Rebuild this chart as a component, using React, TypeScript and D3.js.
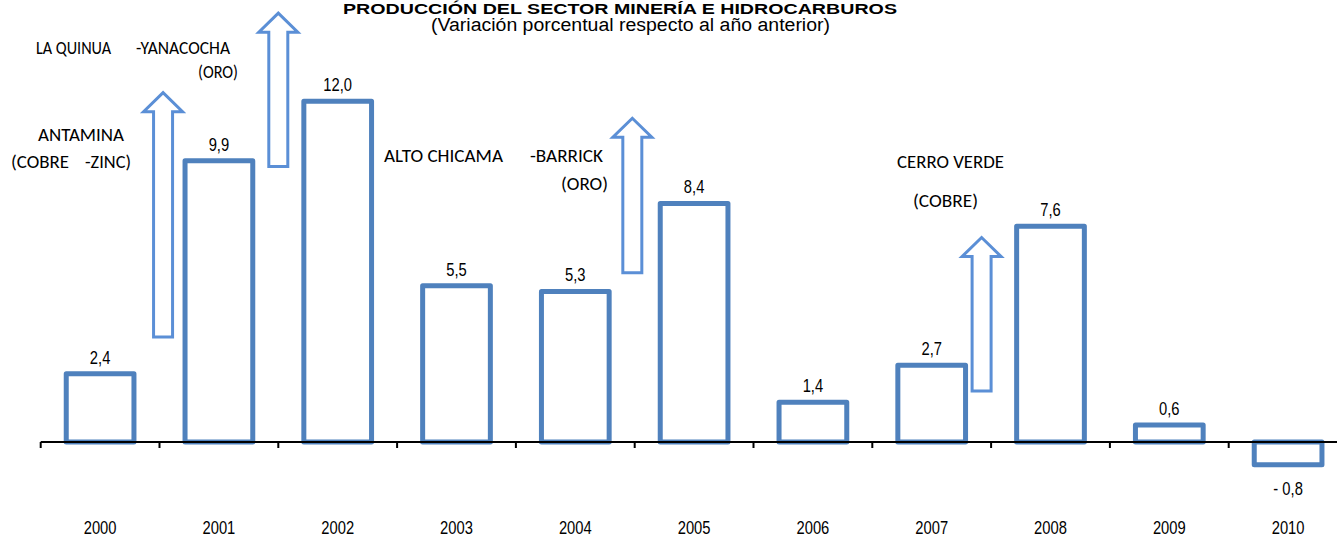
import React from "react";
import * as d3 from "d3";

const years = ["2000","2001","2002","2003","2004","2005","2006","2007","2008","2009","2010"];
const values = [2.4, 9.9, 12.0, 5.5, 5.3, 8.4, 1.4, 2.7, 7.6, 0.6, -0.8];
const valueLabels = ["2,4","9,9","12,0","5,5","5,3","8,4","1,4","2,7","7,6","0,6","- 0,8"];

// arrows: placed at boundary after category index, from base value to tip value
const arrowAfter = ["2000", "2001", "2004", "2007"];
const arrowBase = [3.7, 9.7, 5.96, 1.8];
const arrowTip = [12.3, 15.1, 11.4, 7.2];
const arrowShift = [0.03, 0.0, -0.02, -0.08];

const title = "PRODUCCIÓN DEL SECTOR MINERÍA E HIDROCARBUROS";
const subtitle = "(Variación porcentual  respecto al año anterior)";

const notes = [
  { t: "LA QUINUA", x: 36, y: 54, w: 75, s: 17.5 },
  { t: "-YANACOCHA", x: 136, y: 54, w: 94, s: 17.5 },
  { t: "(ORO)", x: 198, y: 78, w: 40, s: 17.5 },
  { t: "ANTAMINA", x: 38, y: 141, w: 86, s: 18.5 },
  { t: "(COBRE", x: 11, y: 168, w: 58, s: 18.5 },
  { t: "-ZINC)", x: 85, y: 168, w: 46, s: 18.5 },
  { t: "ALTO CHICAMA", x: 384, y: 162, w: 119, s: 18.5 },
  { t: "-BARRICK", x: 530, y: 162, w: 73, s: 18.5 },
  { t: "(ORO)", x: 561, y: 190, w: 47, s: 18.5 },
  { t: "CERRO VERDE", x: 897, y: 168, w: 107, s: 18.5 },
  { t: "(COBRE)", x: 913, y: 207, w: 65, s: 18.5 },
];

const W = 1337, H = 537;
const BAR = "#4F81BD";
const ARROW = "#5B8FD6";
const NARROW = "'Liberation Sans Narrow', 'Arial Narrow', 'Liberation Sans', Arial, sans-serif";
const NOTEFONT = "Carlito, Calibri, Lato, 'Open Sans', sans-serif";
const SQ = 0.82;

function Narrow({ x, y, size, children, bold }: { x: number; y: number; size: number; children: any; bold?: boolean }) {
  return (
    <g transform={`translate(${x},${y}) scale(${SQ},1)`}>
      <text x={0} y={0} textAnchor="middle" fontFamily={NARROW} fontSize={size} fontWeight={bold ? "bold" : "normal"} fill="#000">
        {children}
      </text>
    </g>
  );
}

export default function App() {
  const unit = 28.4;
  const zero = 442;
  const y = d3.scaleLinear().domain([-2, 15]).range([zero + 2 * unit, zero - 15 * unit]);
  const x = d3.scaleBand().domain(years).range([40.7, 40.7 + 11 * 118.8]).padding(0);
  const bw = x.bandwidth();
  const barW = bw * 0.57;
  const ticks = years.map((d) => x(d)!);

  return (
    <svg width={W} height={H} style={{ position: "absolute", left: 0, top: 0, display: "block" }}>
      <rect width={W} height={H} fill="#fff" />
      <text x={620} y={14} textAnchor="middle" fontFamily={NARROW} fontWeight="bold" fontSize={14}
        textLength={554} lengthAdjust="spacingAndGlyphs">{title}</text>
      <text x={630.5} y={31} textAnchor="middle" fontFamily={NARROW} fontSize={18}
        textLength={399} lengthAdjust="spacingAndGlyphs">{subtitle}</text>

      {values.map((v, i) => {
        const cx = x(years[i])! + bw / 2;
        const y0 = y(Math.max(0, v));
        const y1 = y(Math.min(0, v));
        return (
          <g key={years[i]}>
            <rect x={cx - barW / 2} y={y0} width={barW} height={y1 - y0}
              fill="#fff" stroke={BAR} strokeWidth={5} strokeLinejoin="round" />
            <Narrow x={cx} y={v >= 0 ? y0 - 10 : y1 + 30} size={18}>{valueLabels[i]}</Narrow>
            <Narrow x={cx} y={534} size={18}>{years[i]}</Narrow>
          </g>
        );
      })}

      <line x1={ticks[0]} x2={W} y1={y(0)} y2={y(0)} stroke="#000" strokeWidth={2} />
      {ticks.map((t, i) => (
        <line key={i} x1={t} x2={t} y1={y(0)} y2={y(0) + 6} stroke="#000" strokeWidth={2} />
      ))}

      {arrowAfter.map((a, i) => {
        const cx = x(a)! + bw * (1 + arrowShift[i]);
        const base = y(arrowBase[i]);
        const tip = y(arrowTip[i]);
        const sw = 9.5, hw = 19.5, hh = 19;
        const p = d3.path();
        p.moveTo(cx - sw, base);
        p.lineTo(cx - sw, tip + hh);
        p.lineTo(cx - hw, tip + hh);
        p.lineTo(cx, tip);
        p.lineTo(cx + hw, tip + hh);
        p.lineTo(cx + sw, tip + hh);
        p.lineTo(cx + sw, base);
        p.closePath();
        return <path key={a} d={p.toString()} fill="#fff" stroke={ARROW} strokeWidth={3} strokeLinejoin="miter" />;
      })}

      {notes.map((n, i) => (
        <text key={i} x={n.x} y={n.y} fontFamily={NOTEFONT} fontSize={n.s} fill="#000"
          textLength={n.w} lengthAdjust="spacingAndGlyphs">{n.t}</text>
      ))}
    </svg>
  );
}
